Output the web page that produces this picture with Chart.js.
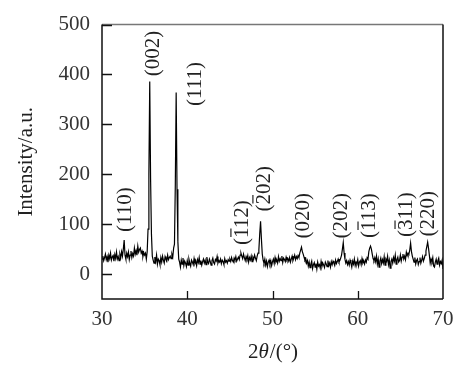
<!DOCTYPE html>
<html>
<head>
<meta charset="utf-8">
<script src="https://cdn.jsdelivr.net/npm/chart.js@4.4.1/dist/chart.umd.min.js"></script>
<style>
html,body{margin:0;padding:0;background:#fff;}
#wrap{width:472px;height:379px;}
</style>
</head>
<body>
<div id="wrap"><canvas id="c" width="472" height="379"></canvas></div>
<script>
// ---- data ----
const twoTheta = [
30.0,30.1,30.2,30.3,30.4,30.5,30.6,30.7,30.8,30.9,
31.0,31.1,31.2,31.3,31.4,31.5,31.6,31.7,31.8,31.9,
32.0,32.1,32.2,32.3,32.4,32.5,32.6,32.7,32.8,32.9,
33.0,33.1,33.2,33.3,33.4,33.5,33.6,33.7,33.8,33.9,
34.0,34.1,34.2,34.3,34.4,34.5,34.6,34.7,34.8,34.9,
35.0,35.1,35.2,35.3,35.4,35.5,35.6,35.7,35.8,35.9,
36.0,36.1,36.2,36.3,36.4,36.5,36.6,36.7,36.8,36.9,
37.0,37.1,37.2,37.3,37.4,37.5,37.6,37.7,37.8,37.9,
38.0,38.1,38.2,38.3,38.4,38.5,38.6,38.7,38.8,38.9,
39.0,39.1,39.2,39.3,39.4,39.5,39.6,39.7,39.8,39.9,
40.0,40.1,40.2,40.3,40.4,40.5,40.6,40.7,40.8,40.9,
41.0,41.1,41.2,41.3,41.4,41.5,41.6,41.7,41.8,41.9,
42.0,42.1,42.2,42.3,42.4,42.5,42.6,42.7,42.8,42.9,
43.0,43.1,43.2,43.3,43.4,43.5,43.6,43.7,43.8,43.9,
44.0,44.1,44.2,44.3,44.4,44.5,44.6,44.7,44.8,44.9,
45.0,45.1,45.2,45.3,45.4,45.5,45.6,45.7,45.8,45.9,
46.0,46.1,46.2,46.3,46.4,46.5,46.6,46.7,46.8,46.9,
47.0,47.1,47.2,47.3,47.4,47.5,47.6,47.7,47.8,47.9,
48.0,48.1,48.2,48.3,48.4,48.5,48.6,48.7,48.8,48.9,
49.0,49.1,49.2,49.3,49.4,49.5,49.6,49.7,49.8,49.9,
50.0,50.1,50.2,50.3,50.4,50.5,50.6,50.7,50.8,50.9,
51.0,51.1,51.2,51.3,51.4,51.5,51.6,51.7,51.8,51.9,
52.0,52.1,52.2,52.3,52.4,52.5,52.6,52.7,52.8,52.9,
53.0,53.1,53.2,53.3,53.4,53.5,53.6,53.7,53.8,53.9,
54.0,54.1,54.2,54.3,54.4,54.5,54.6,54.7,54.8,54.9,
55.0,55.1,55.2,55.3,55.4,55.5,55.6,55.7,55.8,55.9,
56.0,56.1,56.2,56.3,56.4,56.5,56.6,56.7,56.8,56.9,
57.0,57.1,57.2,57.3,57.4,57.5,57.6,57.7,57.8,57.9,
58.0,58.1,58.2,58.3,58.4,58.5,58.6,58.7,58.8,58.9,
59.0,59.1,59.2,59.3,59.4,59.5,59.6,59.7,59.8,59.9,
60.0,60.1,60.2,60.3,60.4,60.5,60.6,60.7,60.8,60.9,
61.0,61.1,61.2,61.3,61.4,61.5,61.6,61.7,61.8,61.9,
62.0,62.1,62.2,62.3,62.4,62.5,62.6,62.7,62.8,62.9,
63.0,63.1,63.2,63.3,63.4,63.5,63.6,63.7,63.8,63.9,
64.0,64.1,64.2,64.3,64.4,64.5,64.6,64.7,64.8,64.9,
65.0,65.1,65.2,65.3,65.4,65.5,65.6,65.7,65.8,65.9,
66.0,66.1,66.2,66.3,66.4,66.5,66.6,66.7,66.8,66.9,
67.0,67.1,67.2,67.3,67.4,67.5,67.6,67.7,67.8,67.9,
68.0,68.1,68.2,68.3,68.4,68.5,68.6,68.7,68.8,68.9,
69.0,69.1,69.2,69.3,69.4,69.5,69.6,69.7,69.8,69.9,
70.0
];
const intensity = [
30,36,27,33,40,29,35,24,38,31,
42,28,34,37,26,39,31,44,30,35,
27,40,33,45,36,50,68,38,30,42,
35,44,29,38,46,33,41,36,52,40,
47,38,56,44,49,52,42,46,35,43,
38,42,30,45,90,200,386,190,80,36,
28,22,34,25,38,20,30,27,19,33,
24,36,28,22,35,30,26,38,29,33,
36,31,40,34,52,60,180,364,170,65,
30,24,14,28,20,32,17,26,22,15,
27,18,30,22,16,28,24,19,31,21,
26,17,29,23,33,20,27,18,25,30,
22,28,19,34,24,21,30,25,18,27,
32,23,20,29,26,35,22,27,24,30,
21,28,25,19,31,24,27,22,29,26,
30,25,33,27,24,32,28,35,26,30,
34,29,38,42,36,31,40,33,27,35,
30,37,24,33,28,36,25,34,30,38,
32,27,36,42,48,80,106,70,40,28,
22,30,18,26,15,24,28,20,27,17,
25,30,21,33,24,28,22,35,26,31,
27,36,23,32,29,25,34,28,31,26,
33,24,30,36,27,32,38,29,35,31,
37,33,42,48,54,45,40,34,28,31,
22,27,16,24,13,20,26,11,19,23,
14,21,10,24,16,19,12,25,15,22,
18,13,24,20,15,27,17,22,14,25,
19,26,22,17,28,21,25,30,24,27,
32,38,50,63,42,30,22,27,19,25,
18,28,22,14,26,20,30,17,24,21,
29,16,24,27,19,31,22,26,20,28,
24,33,30,45,52,56,50,40,31,27,
33,25,36,20,30,14,26,32,21,29,
22,35,18,30,26,36,19,28,12,25,
30,22,33,26,38,20,29,34,24,27,
38,26,34,40,30,36,29,44,37,42,
40,48,62,45,36,30,24,33,20,27,
30,19,25,33,22,28,35,26,31,38,
46,55,64,52,38,22,30,25,33,16,
14,24,30,20,27,32,18,25,21,28,
10
];
const xTicks = [30, 40, 50, 60, 70];
const yTicks = [0, 100, 200, 300, 400, 500];
// peak labels: text, 2θ of the label, index of char carrying an overbar (-1 = none)
const peakLabels = ['(110)', '(002)', '(111)', '(112)', '(202)', '(020)', '(202)', '(113)', '(311)', '(220)'];
const peakLabelTheta = [32.55, 35.83, 40.76, 46.28, 48.86, 53.44, 57.90, 61.19, 65.53, 68.11];
const peakBarIndex = [-1, -1, -1, 1, 1, -1, -1, 1, 1, -1];
const xTitle = ['2', 'θ', '/(°)'];
const yTitle = 'Intensity/a.u.';

// ---- placement (not data) ----
const labelCenterY = [129, 442, 381, 103, 171, 117, 117, 117, 119, 121];
const FONT = '"Liberation Serif", "Times New Roman", serif';

const points = twoTheta.map((x, i) => ({x: x, y: intensity[i]}));

const decor = {
  id: 'decor',
  afterDraw(chart) {
    const ctx = chart.ctx;
    const a = chart.chartArea;
    const xs = chart.scales.x, ys = chart.scales.y;
    ctx.save();
    // frame
    ctx.lineWidth = 1.5;
    ctx.strokeStyle = '#777';
    ctx.beginPath(); ctx.moveTo(a.left, a.top); ctx.lineTo(a.right, a.top); ctx.stroke();
    ctx.strokeStyle = '#111';
    ctx.beginPath();
    ctx.moveTo(a.right, a.top); ctx.lineTo(a.right, a.bottom);
    ctx.moveTo(a.left, a.top); ctx.lineTo(a.left, a.bottom); ctx.lineTo(a.right, a.bottom);
    ctx.stroke();
    // inward ticks
    ctx.lineWidth = 1.3;
    ctx.beginPath();
    yTicks.forEach(v => {
      const py = Math.round(ys.getPixelForValue(v)) + 0.5;
      ctx.moveTo(a.left, py); ctx.lineTo(a.left + 10, py);
    });
    xTicks.slice(1, -1).forEach(v => {
      const px = Math.round(xs.getPixelForValue(v)) + 0.5;
      ctx.moveTo(px, a.bottom); ctx.lineTo(px, a.bottom - 8);
    });
    ctx.stroke();
    // peak labels (rotated)
    ctx.fillStyle = '#222';
    ctx.strokeStyle = '#222';
    const fs = 21;
    ctx.font = fs + 'px ' + FONT;
    ctx.textBaseline = 'alphabetic';
    ctx.textAlign = 'left';
    peakLabels.forEach((t, i) => {
      const cx = xs.getPixelForValue(peakLabelTheta[i]);
      const cy = ys.getPixelForValue(labelCenterY[i]);
      ctx.save();
      ctx.translate(cx, cy);
      ctx.rotate(-Math.PI / 2);
      const w = ctx.measureText(t).width;
      const x0 = -w / 2;
      const base = fs * 0.33;
      ctx.fillText(t, x0, base);
      const bi = peakBarIndex[i];
      if (bi >= 0) {
        const pre = ctx.measureText(t.slice(0, bi)).width;
        const cw = ctx.measureText(t[bi]).width;
        ctx.lineWidth = 1.2;
        ctx.beginPath();
        ctx.moveTo(x0 + pre + 1, base - fs * 0.8);
        ctx.lineTo(x0 + pre + cw - 1, base - fs * 0.8);
        ctx.stroke();
      }
      ctx.restore();
    });
    // y title
    ctx.save();
    ctx.font = '21px ' + FONT;
    ctx.textAlign = 'center';
    ctx.textBaseline = 'middle';
    ctx.translate(26, (a.top + a.bottom) / 2);
    ctx.rotate(-Math.PI / 2);
    ctx.fillText(yTitle, 0, 0);
    ctx.restore();
    // x title with italic theta
    const fonts = ['21px ' + FONT, 'italic 21px ' + FONT, '21px ' + FONT];
    let total = 0;
    const widths = xTitle.map((s, i) => { ctx.font = fonts[i]; const w = ctx.measureText(s).width; total += w; return w; });
    let x = (a.left + a.right) / 2 - total / 2;
    ctx.textAlign = 'left';
    ctx.textBaseline = 'middle';
    xTitle.forEach((s, i) => { ctx.font = fonts[i]; ctx.fillText(s, x, 352); x += widths[i] + (i === 1 ? 1 : 0); });
    ctx.restore();
  }
};

new Chart(document.getElementById('c'), {
  type: 'line',
  data: {
    datasets: [{
      data: points,
      borderColor: '#000',
      borderWidth: 1.2,
      pointRadius: 0,
      tension: 0,
      fill: false
    }]
  },
  options: {
    responsive: false,
    devicePixelRatio: 1,
    animation: false,
    parsing: false,
    layout: {padding: {top: 22, right: 29, left: 0, bottom: 0}},
    plugins: {legend: {display: false}, tooltip: {enabled: false}},
    scales: {
      x: {
        type: 'linear', min: 30, max: 70,
        grid: {display: false, drawTicks: false},
        border: {display: false},
        afterBuildTicks: s => { s.ticks = xTicks.map(v => ({value: v})); },
        afterFit: s => { s.height = 80; },
        ticks: {padding: 8, color: '#333', font: {family: FONT, size: 21}, maxRotation: 0}
      },
      y: {
        type: 'linear', min: -50, max: 500,
        grid: {display: false, drawTicks: false},
        border: {display: false},
        afterBuildTicks: s => { s.ticks = yTicks.map(v => ({value: v})); },
        afterFit: s => { s.width = 102; },
        ticks: {padding: 12, color: '#333', font: {family: FONT, size: 21}}
      }
    }
  },
  plugins: [decor]
});
</script>
</body>
</html>
